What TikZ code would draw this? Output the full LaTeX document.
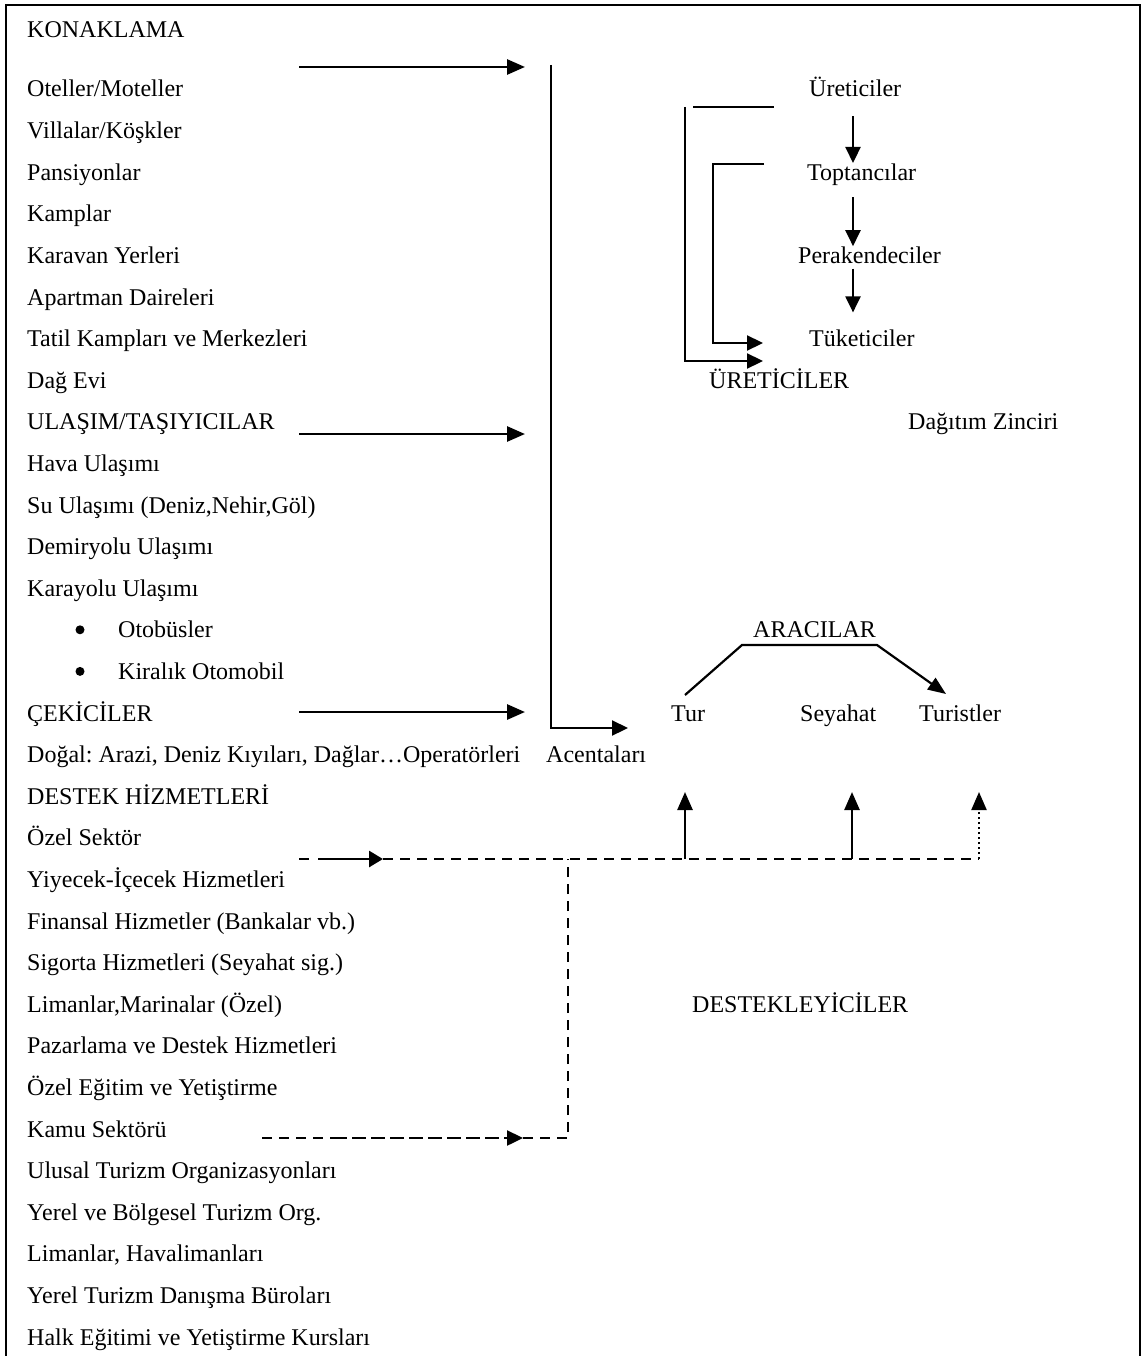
\documentclass[tikz,border=0pt]{standalone}
\usepackage{fontspec}
\setmainfont{Liberation Serif}
\usetikzlibrary{arrows.meta,calc}
\frenchspacing

\begin{document}
\begin{tikzpicture}[x=1pt,y=-1pt,
  txt/.style={anchor=base west,inner sep=0pt,font=\fontsize{24}{28}\selectfont},
  chainbox/.style={txt,text height=17pt,text depth=5pt},
  flow/.style={line width=2.8pt,-{Triangle[length=18pt,width=15pt]}},
  thinflow/.style={line width=2.2pt,-{Triangle[length=16pt,width=15pt]}},
  support/.style={line width=2.4pt,dash pattern=on 10pt off 7pt},
  longdash/.style={line width=2.4pt,dash pattern=on 14pt off 5pt},
  dots/.style={line width=2.2pt,dash pattern=on 2pt off 3pt}
]
\useasboundingbox (0,0) rectangle (1142,1356);

% frame, open at the bottom
\draw[line width=2.2pt] (6,1356) -- (6,5) -- (1140,5) -- (1140,1356);

% left column
\node[txt] (konaklama) at (27,38) {KONAKLAMA};
\foreach \t [count=\i from 0] in {Oteller/Moteller,Villalar/Köşkler,Pansiyonlar,Kamplar,Karavan Yerleri,Apartman Daireleri,Tatil Kampları ve Merkezleri,Dağ Evi,ULAŞIM/TAŞIYICILAR,Hava Ulaşımı,{Su Ulaşımı (Deniz,Nehir,Göl)},Demiryolu Ulaşımı,Karayolu Ulaşımı}
{
\node[txt] (row\i) at (27,{97+41.6*\i}) {\t};
}
\foreach \t [count=\i from 13] in {Otobüsler,Kiralık Otomobil}
{
\node[circle,fill,inner sep=0pt,minimum size=9pt] (dot\i) at (80,{97+41.6*\i-8}) {};
\node[txt] (row\i) at (118,{97+41.6*\i}) {\t};
}
\foreach \t [count=\i from 15] in {ÇEKİCİLER,{Doğal: Arazi, Deniz Kıyıları, Dağlar…Operatörleri},DESTEK HİZMETLERİ,Özel Sektör,Yiyecek-İçecek Hizmetleri,Finansal Hizmetler (Bankalar vb.),Sigorta Hizmetleri (Seyahat sig.),{Limanlar,Marinalar (Özel)},Pazarlama ve Destek Hizmetleri,Özel Eğitim ve Yetiştirme,Kamu Sektörü,Ulusal Turizm Organizasyonları,Yerel ve Bölgesel Turizm Org.,{Limanlar, Havalimanları},Yerel Turizm Danışma Büroları,Halk Eğitimi ve Yetiştirme Kursları}
{
\node[txt] (row\i) at (27,{97+41.6*\i}) {\t};
}

% distribution chain
\node[chainbox] (uretici) at (809,97) {Üreticiler};
\node[chainbox] (toptanci) at (807,180.2) {Toptancılar};
\node[chainbox] (perakende) at (798,263.4) {Perakendeciler};
\node[chainbox] (tuketici) at (809,346.6) {Tüketiciler};
\node[txt] (ureticiler) at (709,388.2) {ÜRETİCİLER};
\node[txt] (zincir) at (908,429.8) {Dağıtım Zinciri};

\coordinate (chainx) at (853,0);
\draw[thinflow,shorten <=14pt] (uretici.south -| chainx) -- (toptanci.north -| chainx);
\draw[thinflow,shorten <=12pt] (toptanci.south -| chainx) -- (perakende.north -| chainx);
\draw[thinflow,shorten >=17pt] (perakende.south -| chainx) -- (tuketici.north -| chainx);

% brackets
\coordinate (ob0) at (693,107);
\coordinate (ob1) at (774,107);
\coordinate (ob2) at (685,107);
\coordinate (ob3) at (685,361);
\coordinate (ob4) at (763,361);
\draw[line width=2.2pt] (ob0) -- (ob1);
\draw[thinflow] (ob2) -- (ob3) -- (ob4);
\coordinate (ib0) at (764,164);
\coordinate (ib1) at (713,164);
\coordinate (ib2) at (713,343);
\coordinate (ib3) at (763,343);
\draw[thinflow] (ib0) -- (ib1) -- (ib2) -- (ib3);

% arrows into the intermediaries
\foreach \y/\n in {67/k,434/u,712/c}
{
\coordinate (\n0) at (299,\y);
\coordinate (\n1) at (525,\y);
\draw[flow] (\n0) -- (\n1);
}
\coordinate (bustop) at (551,65);
\coordinate (buscorner) at (551,728);
\coordinate (busend) at (628,728);
\draw[thinflow] (bustop) -- (buscorner) -- (busend);

% intermediaries
\node[txt] (aracilar) at (753,637.8) {ARACILAR};
\node[txt] (tur) at (671,721) {Tur};
\node[txt] (seyahat) at (800,721) {Seyahat};
\node[txt] (turist) at (919,721) {Turistler};
\node[txt] (acenta) at (546,762.6) {Acentaları};
\coordinate (a0) at (685,695);
\coordinate (a1) at (742,645);
\coordinate (a2) at (877,645);
\coordinate (a3) at (946,694);
\draw[line width=2.2pt,-{Triangle[length=18pt,width=14pt]}] (a0) -- (a1) -- (a2) -- (a3);

% supporters
\node[txt] (destekci) at (692,1012.2) {DESTEKLEYİCİLER};
\coordinate (s0) at (299,859);
\coordinate (s1) at (310,859);
\coordinate (s2) at (318,859);
\coordinate (s3) at (383,859);
\coordinate (s4) at (979,859);
\coordinate (sj) at (568,859);
\draw[support] (s0) -- (s1);
\draw[line width=2.8pt,-{Triangle[length=14pt,width=16pt]}] (s2) -- (s3);
\draw[support] (s3) -- (s4);
\coordinate (p0) at (262,1138);
\coordinate (p1) at (333,1138);
\coordinate (p2) at (523,1138);
\coordinate (pj) at (568,1138);
\draw[support] (p0) -- (p1);
\draw[longdash,-{Triangle[length=16pt,width=15pt]}] (p1) -- (p2);
\draw[support] (p2) -- (pj) -- (sj);
\foreach \x in {685,852}
{
\draw[line width=2.5pt,-{Triangle[length=18pt,width=15pt]}] (\x,859) -- (\x,792);
}
\draw[dots,-{Triangle[length=18pt,width=15pt]}] (s4) -- (979,792);

\end{tikzpicture}
\end{document}
